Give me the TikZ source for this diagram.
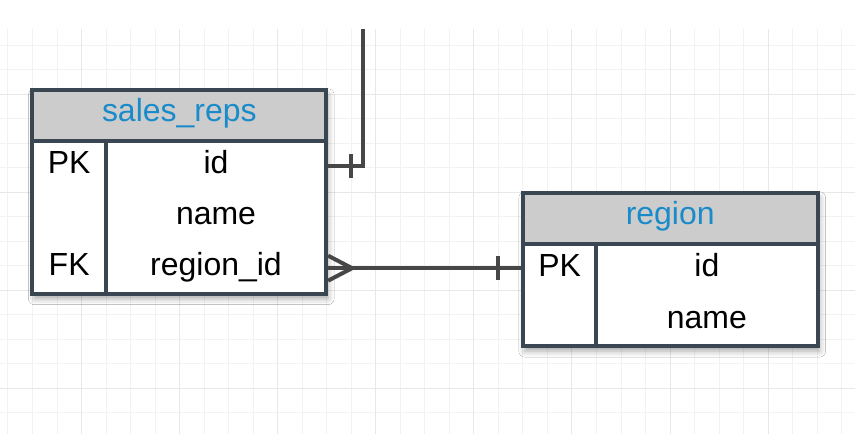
\documentclass[tikz,border=0pt]{standalone}
\usepackage{fontspec}
\setmainfont{Liberation Sans}
\usetikzlibrary{positioning,shadows.blur}
\definecolor{gridminor}{HTML}{F2F2F2}
\definecolor{gridmajor}{HTML}{E8E8E8}
\definecolor{tabline}{HTML}{3A4651}
\definecolor{headfill}{HTML}{CCCCCC}
\definecolor{headtext}{HTML}{1A8BCA}
\definecolor{relline}{HTML}{474747}
\tikzset{
	tableframe/.style={draw=tabline,line width=4pt,fill=white,inner sep=0pt,outer sep=0pt,
		blur shadow={shadow xshift=2pt,shadow yshift=-5pt,shadow blur radius=6pt,shadow opacity=35}},
	tablehead/.style={draw=tabline,line width=4pt,fill=headfill,inner sep=0pt,outer sep=0pt,minimum height=51pt,
		text=headtext,font=\fontsize{32}{38}\selectfont,text height=23pt,text depth=10pt},
	tablecol/.style={draw=tabline,line width=4pt,inner sep=0pt,outer sep=0pt},
	tablerow/.style={inner sep=0pt,outer sep=0pt,minimum height=51pt,
		font=\fontsize{32}{38}\selectfont,text height=23pt,text depth=7.8pt},
	relation/.style={draw=relline,line width=4pt},
}
\begin{document}
\begin{tikzpicture}
		[x=1pt,y=-1pt]
		\fill[white] (0,0) rectangle (855,447);
		\foreach \k in {0,...,34}
			\draw[gridminor,line width=1pt] ({7.5+24.55*\k},29) -- ({7.5+24.55*\k},435);
		\foreach \k in {0,...,15}
			\draw[gridminor,line width=1pt] (0,{45.3+24.53*\k}) -- (855,{45.3+24.53*\k});
		\foreach \k in {3,7,...,31}
			\draw[gridmajor,line width=1pt] ({7.5+24.55*\k},29) -- ({7.5+24.55*\k},435);
		\foreach \k in {2,6,10,14}
			\draw[gridmajor,line width=1pt] (0,{45.3+24.53*\k}) -- (855,{45.3+24.53*\k});

		\node[tableframe,minimum width=294pt,minimum height=204pt] (sr) at (179,192) {};
		\node[tablehead,minimum width=294pt,anchor=north] (sr-head) at (sr.north) {sales\_reps};
		\node[tablecol,minimum width=73.5pt,minimum height=153pt,anchor=north west] (sr-keys) at (sr-head.south west) {};
		\node[tablerow,minimum width=220.5pt,anchor=north east] (sr-id) at (sr-head.south east) {id};
		\node[tablerow,minimum width=220.5pt,below=0pt of sr-id] (sr-name) {name};
		\node[tablerow,minimum width=220.5pt,below=0pt of sr-name] (sr-rid) {region\_id};
		\node[tablerow,minimum width=73.5pt] (sr-pk) at (sr-keys |- sr-id) {PK};
		\node[tablerow,minimum width=73.5pt] (sr-fk) at (sr-keys |- sr-rid) {FK};

		\node[tableframe,minimum width=295pt,minimum height=153.5pt] (rg) at (670.5,269.75) {};
		\node[tablehead,minimum width=295pt,anchor=north] (rg-head) at (rg.north) {region};
		\node[tablecol,minimum width=73.5pt,minimum height=102.5pt,anchor=north west] (rg-keys) at (rg-head.south west) {};
		\node[tablerow,minimum width=221.5pt,minimum height=51.25pt,anchor=north east] (rg-id) at (rg-head.south east) {id};
		\node[tablerow,minimum width=221.5pt,minimum height=51.25pt,below=0pt of rg-id] (rg-name) {name};
		\node[tablerow,minimum width=73.5pt,minimum height=51.25pt] (rg-pk) at (rg-keys |- rg-id) {PK};

		\coordinate (up-end) at (363,29);
		\draw[relation] ([xshift=2pt]sr-id.east) -| (up-end);
		\draw[relation] ([xshift=25pt,yshift=12pt]sr-id.east) -- ([xshift=25pt,yshift=-12pt]sr-id.east);

		\coordinate (rg-in) at ([xshift=-2pt]sr-rid.east -| rg-pk.west);
		\draw[relation] ([xshift=2pt]sr-rid.east) -- (rg-in);
		\draw[relation] ([xshift=2pt,yshift=12.5pt]sr-rid.east) -- ([xshift=26pt]sr-rid.east) -- ([xshift=2pt,yshift=-12.5pt]sr-rid.east);
		\draw[relation] ([xshift=-23pt,yshift=12pt]rg-in) -- ([xshift=-23pt,yshift=-12pt]rg-in);
	\end{tikzpicture}
\end{document}
